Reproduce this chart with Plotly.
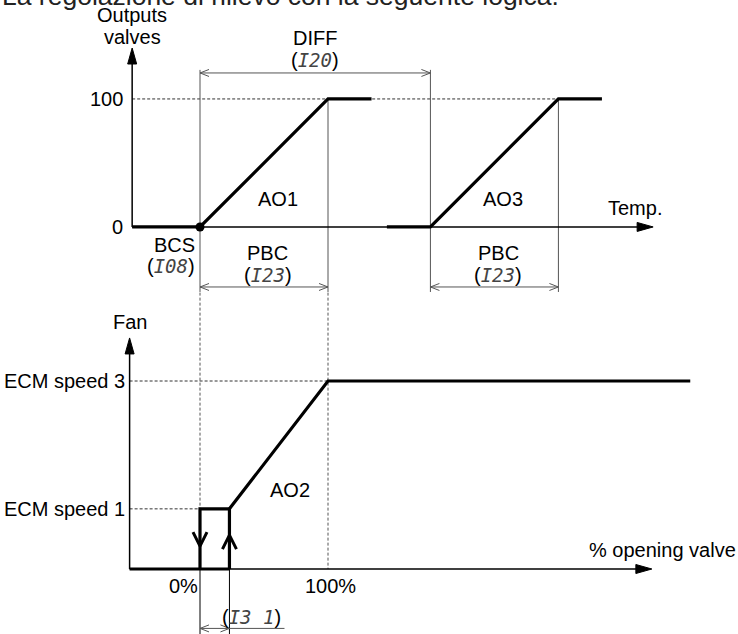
import plotly.graph_objects as go

W, H = 738, 634

# ---------------- data (diagram units) ----------------
# Top diagram: valve outputs (%) versus temperature, temperature expressed
# as % of the proportional band PBC measured from the set point BCS.
BCS = 0
PBC = 100
DIFF = 180
OUT_MAX = 100
ao1_x = [-53, 0, 100, 134]
ao1_y = [0, 0, 100, 100]
ao3_x = [146, 180, 280, 314]
ao3_y = [0, 0, 100, 100]

# Bottom diagram: fan speed (% of ECM speed 3) versus % opening valve
SPEED1 = 32
SPEED3 = 100
HYST = 23          # I31 hysteresis
fan_base_x = [-55, 23]
fan_base_y = [0, 0]
fan_hyst_x = [0, 0, 23, 23]
fan_hyst_y = [0, 32, 32, 0]
fan_ramp_x = [23, 100, 383]
fan_ramp_y = [32, 100, 100]

y_ticks_top = ["0", "100"]
y_ticks_bottom = ["ECM speed 1", "ECM speed 3"]
x_ticks_bottom = ["0%", "100%"]

# ---------------- canvas ----------------
XR = [-156.25, 420.3]
YR = [-318.0, 177.3]
Y2R = [-34.57, 302.66]
SX = W / (XR[1] - XR[0])
SY = {"y": H / (YR[1] - YR[0]), "y2": H / (Y2R[1] - Y2R[0])}

fig = go.Figure()

BLACK = "#000000"
GREY = "#555555"
DASH = "3px,2px"
FONT = "Liberation Sans, Arial, sans-serif"


def line(xs, ys, ax="y", width=1.0, color=BLACK, dash=None):
    fig.add_trace(go.Scatter(x=xs, y=ys, yaxis=ax, mode="lines",
                             line=dict(width=width, color=color, dash=dash),
                             hoverinfo="skip", showlegend=False))


def _pts(tx, ty, dx, dy, ax, L, half):
    n = (dx * dx + dy * dy) ** 0.5
    dx, dy = dx / n, dy / n
    px, py = -dy, dx
    s = SY[ax]
    b1 = (tx + (-dx * L + px * half) / SX, ty + (-dy * L + py * half) / s)
    b2 = (tx + (-dx * L - px * half) / SX, ty + (-dy * L - py * half) / s)
    return b1, (tx, ty), b2


def head(tx, ty, dx, dy, ax="y", L=16, half=4.5):
    b1, t, b2 = _pts(tx, ty, dx, dy, ax, L, half)
    fig.add_trace(go.Scatter(x=[b1[0], t[0], b2[0], b1[0]], y=[b1[1], t[1], b2[1], b1[1]],
                             yaxis=ax, mode="lines", fill="toself", fillcolor=BLACK,
                             line=dict(width=1, color=BLACK), hoverinfo="skip",
                             showlegend=False))


def open_head(tx, ty, dx, dy, ax="y", L=9, half=3.5, width=1.0, color=GREY):
    b1, t, b2 = _pts(tx, ty, dx, dy, ax, L, half)
    line([b1[0], t[0], b2[0]], [b1[1], t[1], b2[1]], ax, width, color)


def text(x, y, s, ax="y", size=20, xanchor="center", color=BLACK):
    fig.add_annotation(x=x, y=y, yref=ax, xref="x", text=s, showarrow=False,
                       xanchor=xanchor, yanchor="middle",
                       font=dict(size=size, color=color, family=FONT))


def code(c):
    return ("(<span style='font-family:DejaVu Sans Mono;font-style:italic;color:#444;"
            "font-size:19px'>" + c + "</span>)")


# ---------------- top diagram ----------------
TOP_AX_X = -53
TOP_ARROW_Y = 139.8
TOP_ARROW_X = 354
DIM_TOP = 120.3
DIM_PBC = -46.9
DIM_LOW = -50.8
DIM_HIGH = 122.7

line([TOP_AX_X, ao3_x[2]], [OUT_MAX, OUT_MAX], "y", 1, "#333", DASH)
line([BCS, BCS], [DIM_HIGH, DIM_LOW], "y", 1, GREY)
line([DIFF, DIFF], [DIM_HIGH, DIM_LOW], "y", 1, GREY)
line([PBC, PBC], [OUT_MAX, DIM_LOW], "y", 1, GREY)
line([DIFF + PBC, DIFF + PBC], [OUT_MAX, DIM_LOW], "y", 1, GREY)
line([TOP_AX_X, TOP_AX_X], [0, TOP_ARROW_Y - 5], "y", 1.5)
head(TOP_AX_X, TOP_ARROW_Y, 0, 1, "y")
line([TOP_AX_X, TOP_ARROW_X - 5], [0, 0], "y", 1.5)
head(TOP_ARROW_X, 0, 1, 0, "y")
line([BCS, DIFF], [DIM_TOP, DIM_TOP], "y", 1, GREY)
open_head(BCS, DIM_TOP, -1, 0, "y")
open_head(DIFF, DIM_TOP, 1, 0, "y")
for x0 in (BCS, DIFF):
    line([x0, x0 + PBC], [DIM_PBC, DIM_PBC], "y", 1, GREY)
    open_head(x0, DIM_PBC, -1, 0, "y")
    open_head(x0 + PBC, DIM_PBC, 1, 0, "y")
line(ao1_x, ao1_y, "y", 3.2)
line(ao3_x, ao3_y, "y", 3.2)
fig.add_trace(go.Scatter(x=[BCS], y=[0], mode="markers", marker=dict(size=9, color=BLACK),
                         hoverinfo="skip", showlegend=False))

# ---------------- bottom diagram ----------------
BOT_AX_X = -55
BOT_ARROW_Y = 122.9
BOT_ARROW_X = 353
DASH_TOP = 147
BELOW = -34.6
DIM_I31 = -31.6

line([BOT_AX_X, PBC], [SPEED3, SPEED3], "y2", 1, "#333", DASH)
line([BOT_AX_X, 0], [SPEED1, SPEED1], "y2", 1, "#333", DASH)
line([0, 0], [DASH_TOP, 0], "y2", 1, GREY, DASH)
line([100, 100], [DASH_TOP, 0], "y2", 1, GREY, DASH)
line([0, 0], [0, BELOW], "y2", 1, BLACK)
line([HYST, HYST], [0, BELOW], "y2", 1, BLACK)
line([BOT_AX_X, BOT_AX_X], [0, BOT_ARROW_Y - 5], "y2", 1.5)
head(BOT_AX_X, BOT_ARROW_Y, 0, 1, "y2")
line([BOT_AX_X, BOT_ARROW_X - 5], [0, 0], "y2", 1.5)
head(BOT_ARROW_X, 0, 1, 0, "y2")
line([0, 66], [DIM_I31, DIM_I31], "y2", 1, GREY)
open_head(0, DIM_I31, -1, 0, "y2")
open_head(HYST, DIM_I31, 1, 0, "y2")
line(fan_base_x, fan_base_y, "y2", 3.2)
line(fan_hyst_x, fan_hyst_y, "y2", 3.2)
line(fan_ramp_x, fan_ramp_y, "y2", 3.2)
open_head(0, 12.2, 0, -1, "y2", L=14, half=7, width=3, color=BLACK)
open_head(HYST, 18, 0, 1, "y2", L=14, half=7, width=3, color=BLACK)

# ---------------- texts ----------------
fig.add_annotation(x=0, y=1, xref="paper", yref="paper", xanchor="left", yanchor="middle",
                   yshift=4, text="La regolazione di rilievo con la seguente logica.",
                   showarrow=False, font=dict(size=26.5, color="#222", family=FONT))
text(TOP_AX_X, 165.6, "Outputs")
text(TOP_AX_X, 148.4, "valves")
text(-58.6, OUT_MAX, y_ticks_top[1], xanchor="right")
text(-58.6, 0, y_ticks_top[0], xanchor="right")
text(DIFF / 2, 147.7, "DIFF")
text(DIFF / 2, 130.5, code("I20"))
text(61, 21.9, "AO1")
text(237, 21.9, "AO3")
text(340, 14.8, "Temp.")
text(-2.3, -14, "BCS", xanchor="right")
text(-2.3, -30.5, code("I08"), xanchor="right")
for cx in (53, DIFF + 53):
    text(cx, -20.3, "PBC")
    text(cx, -37.5, code("I23"))

text(BOT_AX_X, 131.4, "Fan", "y2")
text(-57, SPEED3, y_ticks_bottom[1], "y2", xanchor="right")
text(-57, SPEED1, y_ticks_bottom[0], "y2", xanchor="right")
text(70, 42, "AO2", "y2")
text(361, 10, "% opening valve", "y2")
text(-13, -9, x_ticks_bottom[0], "y2")
text(102, -9, x_ticks_bottom[1], "y2")
text(40, -25.5, code("I3 1"), "y2")

fig.update_layout(
    width=W, height=H, margin=dict(l=0, r=0, t=0, b=0),
    paper_bgcolor="white", plot_bgcolor="white", showlegend=False,
    xaxis=dict(range=XR, visible=False, fixedrange=True),
    yaxis=dict(range=YR, visible=False, fixedrange=True),
    yaxis2=dict(range=Y2R, visible=False, overlaying="y", fixedrange=True),
)
fig.write_html("out.html", config={"displayModeBar": False},
               post_script="document.body.style.margin='0';document.body.style.padding='0';"
                           "document.body.style.overflow='hidden';")
